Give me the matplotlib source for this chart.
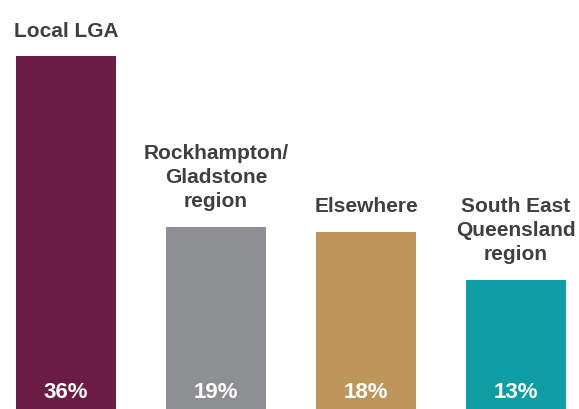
import matplotlib
matplotlib.use("Agg")
import matplotlib.pyplot as plt

categories = ["Local LGA", "Rockhampton/\nGladstone\nregion", "Elsewhere", "South East\nQueensland\nregion"]
values = [36.0, 18.6, 18.1, 13.2]
value_labels = ["36%", "19%", "18%", "13%"]
colors = ["#6A1C44", "#8E8F93", "#BE955A", "#0E9DA5"]

plt.rcParams['font.family'] = ['Liberation Sans', 'DejaVu Sans']

fig = plt.figure(figsize=(5.79, 4.10), dpi=100)
ax = fig.add_axes([0, 0, 1, 1])
x = list(range(len(categories)))
bars = ax.bar(x, values, width=0.67, color=colors)
ax.set_xlim(-0.44, 3.42)
ax.set_ylim(0, 410 / 9.8)
ax.axis("off")

for xi, v, cat, lab in zip(x, values, categories, value_labels):
    ax.annotate(cat, (xi, v), xytext=(0, 12), textcoords="offset points",
                ha="center", va="bottom", fontsize=15, fontweight="bold",
                color="#3F3F3F", linespacing=1.33)
    ax.annotate(lab, (xi, 0), xytext=(0, 8.5), textcoords="offset points",
                ha="center", va="baseline", fontsize=16, fontweight="bold",
                color="white")

fig.savefig("out.png", dpi=100)
